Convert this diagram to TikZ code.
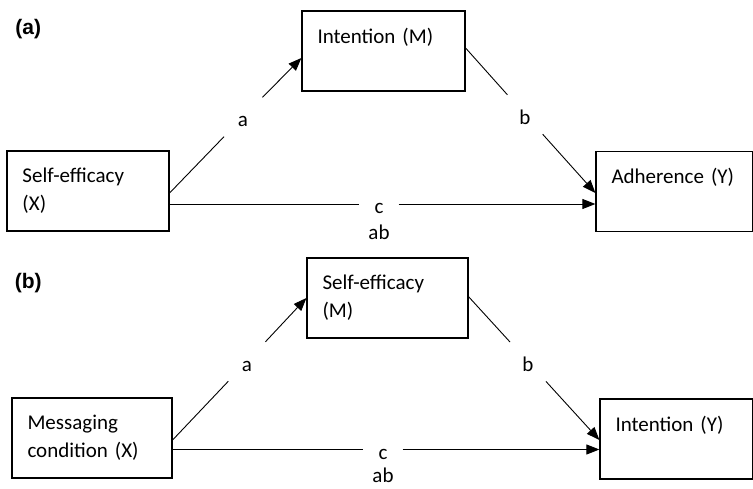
\documentclass[tikz,border=0pt]{standalone}
\usepackage{fontspec}
\setmainfont{Carlito}
\newfontfamily\tagfont{Liberation Sans}
\usetikzlibrary{arrows.meta}

\begin{document}
\begin{tikzpicture}[x=1pt,y=1pt,
    box/.style={draw,line width=1.2pt,text width=#1,minimum height=80pt,
      inner xsep=15.5pt,inner ysep=0pt,align=left,
      font=\fontsize{21}{28}\selectfont},
    lbl/.style={inner sep=0pt,minimum size=39pt,text height=19.6pt,
      text depth=0pt,font=\fontsize{21}{28}\selectfont},
    ln/.style={line width=0.9pt},
    arr/.style={line width=0.9pt,-{Triangle[length=13pt,width=10pt]}},
    tag/.style={font=\tagfont\bfseries\fontsize{21}{25}\selectfont}]
    \useasboundingbox (0,0) rectangle (753,488);

    % --- (a) 上段
    \begin{scope}
      \node[tag] (taga) at (28.3,458.5) {(a)};

      \node[box=131pt] (sx) at (88,297) {Self-efficacy\\(X)};
      \node[box=132pt] (im) at (383.5,437) {Intention (M)\\\vphantom{(M)}};
      \node[box=125.3pt] (ad) at (674.15,296.5) {Adherence (Y)\\\vphantom{(Y)}};

      \node[lbl] (la) at (243,371) {a};
      \node[lbl] (lb) at (525,373.5) {b};
      \node[lbl] (lc) at (379,284) {c};
      \node[lbl,minimum size=0pt] (lab) at (379,258) {ab};

      \draw[ln] ([yshift=-2pt]sx.east) -- (la);
      \draw[arr] (la) -- ([yshift=-7pt]im.west);
      \draw[ln] ([yshift=3pt]im.east) -- (lb);
      \draw[arr] (lb) -- ([yshift=-1.5pt]ad.west);
      \draw[ln] (sx.east |- lc) -- (lc);
      \draw[arr] (lc) -- (ad.west |- lc);
    \end{scope}

    % --- (b) 下段
    \begin{scope}
      \node[tag] (tagb) at (28.3,205) {(b)};

      \node[box=129pt] (mc) at (92,50) {Messaging\\condition (X)};
      \node[box=130pt] (sm) at (387.5,190) {Self-efficacy\\(M)};
      \node[box=121.3pt] (iy) at (676.15,49) {Intention (Y)\\\vphantom{(Y)}};

      \node[lbl] (la2) at (247,126.5) {a};
      \node[lbl] (lb2) at (528,126.3) {b};
      \node[lbl] (lc2) at (383,38.5) {c};
      \node[lbl,minimum size=0pt] (lab2) at (383,15.5) {ab};

      \draw[ln] ([yshift=-2pt]mc.east) -- (la2);
      \draw[arr] (la2) -- (sm.west);
      \draw[ln] ([yshift=1.3pt]sm.east) -- (lb2);
      \draw[arr] (lb2) -- ([yshift=-1pt]iy.west);
      \draw[ln] (mc.east |- lc2) -- (lc2);
      \draw[arr] (lc2) -- (iy.west |- lc2);
    \end{scope}
  \end{tikzpicture}
\end{document}
